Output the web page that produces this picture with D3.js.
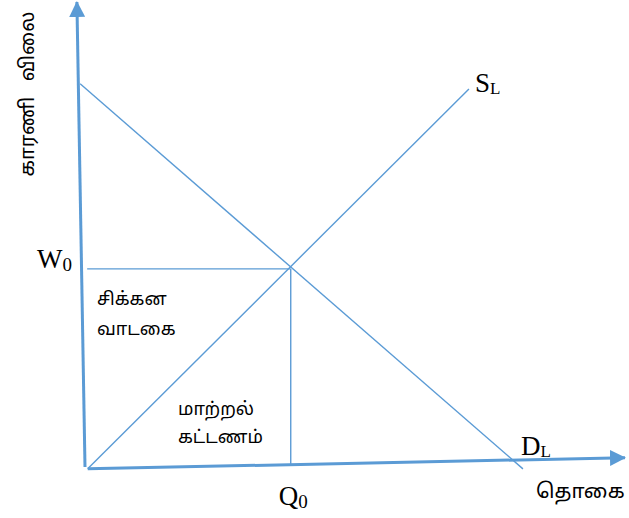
<!DOCTYPE html>
<html>
<head>
<meta charset="utf-8">
<script src="https://cdn.jsdelivr.net/npm/d3@7"></script>
<style>
  body { margin: 0; background: #fff; }
  .serif { font-family: "Liberation Serif", "Times New Roman", serif; }
  .tamil { font-family: "Noto Sans Tamil", "Lohit Tamil", "Latha", sans-serif; white-space: pre; }
</style>
</head>
<body>
<div id="chart"></div>
<script>
// data units: x and y both run 0..100 from the origin
const axisY = [[0, 0], [-1.5, 100]];
const axisX = [[0.5, -0.4], [100, 2]];
const demand = [[-0.9, 82.4], [81.1, -0.4]];
const supply = [[0.5, -0.4], [71.1, 81.3]];
const equilibrium = [38.1, 42.6];
const wageLine = [[0.4, 42.6], [38.1, 42.6]];
const qtyLine = [[38.1, 42.6], [38.1, 0.4]];

const width = 629;
const height = 518;
const blue = "#5b9bd5";

const x = d3.scaleLinear().domain([0, 100]).range([85, 625]);
const y = d3.scaleLinear().domain([0, 100]).range([467, 2]);

const svg = d3.select("#chart")
    .append("svg")
    .attr("width", width)
    .attr("height", height);

svg.append("defs").append("marker")
    .attr("id", "arrow")
    .attr("markerUnits", "userSpaceOnUse")
    .attr("viewBox", "0 0 16 16")
    .attr("refX", 15)
    .attr("refY", 8)
    .attr("markerWidth", 16)
    .attr("markerHeight", 16)
    .attr("orient", "auto")
    .append("path")
    .attr("d", "M0,0L16,8L0,16Z")
    .attr("fill", blue);

const line = d3.line().x(d => x(d[0])).y(d => y(d[1]));

// axes
[axisY, axisX].forEach(a => {
    svg.append("path")
        .attr("d", line(a))
        .attr("fill", "none")
        .attr("stroke", blue)
        .attr("stroke-width", 3)
        .attr("marker-end", "url(#arrow)");
});

// demand, supply, guide lines
[demand, supply, wageLine, qtyLine].forEach(l => {
    svg.append("path")
        .attr("d", line(l))
        .attr("fill", "none")
        .attr("stroke", blue)
        .attr("stroke-width", 1.4);
});

// labels with subscripts
function subLabel(px, py, main, sub, size, subSize, dy) {
    const t = svg.append("text")
        .attr("class", "serif")
        .attr("x", px)
        .attr("y", py)
        .style("font-size", size + "px");
    t.append("tspan").text(main);
    t.append("tspan").attr("dy", dy).style("font-size", subSize + "px").text(sub);
}

subLabel(x(0) - 48, y(equilibrium[1]) - 1, "W", "0", 27, 19, 3);
subLabel(x(equilibrium[0]) - 12, 505, "Q", "0", 27, 19, 3);
subLabel(x(supply[1][0]) + 6, 92, "S", "L", 27, 17, 2);
subLabel(x(demand[1][0]) - 2, 455, "D", "L", 27, 17, 2);

// tamil texts
const tamil = [
    {t: "சிக்கன", x: 97, y: 305},
    {t: "வாடகை", x: 97, y: 335},
    {t: "மாற்றல்", x: 178, y: 415},
    {t: "கட்டணம்", x: 178, y: 443}
];
tamil.forEach(d => {
    svg.append("text")
        .attr("class", "tamil")
        .attr("x", d.x)
        .attr("y", d.y)
        .style("font-size", "18px")
        .text(d.t);
});

svg.append("text")
    .attr("class", "tamil")
    .attr("x", 536)
    .attr("y", 498)
    .style("font-size", "20.5px")
    .text("தொகை");

svg.append("text")
    .attr("class", "tamil")
    .attr("transform", "translate(34,94) rotate(-90)")
    .attr("text-anchor", "middle")
    .style("font-size", "20px")
    .text("காரணி   விலை");
</script>
</body>
</html>
